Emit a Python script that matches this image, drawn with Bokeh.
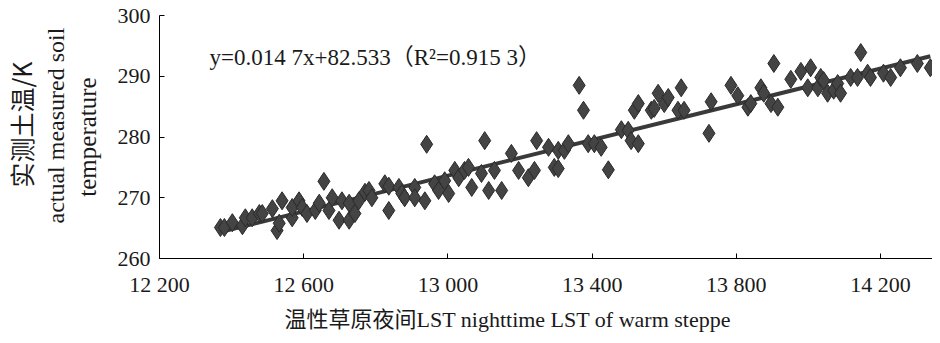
from bokeh.plotting import figure
from bokeh.models import (Range1d, FixedTicker, Label, ColumnDataSource, Title,
                          LinearAxis)
from bokeh.embed import file_html
from bokeh.resources import INLINE

# ---- data ----
lst_night = [12369, 12380, 12402, 12430, 12438, 12457, 12477, 12485, 12513, 12526,
             12532, 12540, 12568, 12568, 12587, 12596, 12609, 12632, 12643, 12656,
             12670, 12679, 12698, 12706, 12726, 12726, 12742, 12753, 12770, 12781,
             12789, 12825, 12836, 12836, 12864, 12872, 12880, 12908, 12908, 12936,
             12941, 12963, 12974, 12991, 13002, 13019, 13030, 13046, 13057, 13066,
             13093, 13102, 13113, 13129, 13149, 13176, 13196, 13223, 13240, 13246,
             13279, 13295, 13306, 13306, 13323, 13334, 13364, 13376, 13389, 13406,
             13425, 13445, 13481, 13500, 13508, 13517, 13528, 13528, 13564, 13572,
             13583, 13600, 13611, 13638, 13647, 13655, 13724, 13730, 13785, 13804,
             13832, 13840, 13868, 13876, 13896, 13904, 13915, 13951, 13979, 13998,
             14006, 14026, 14034, 14042, 14053, 14070, 14081, 14089, 14117, 14136,
             14145, 14164, 14172, 14208, 14228, 14255, 14302, 14338]
soil_temp = [265.1, 265.1, 265.9, 265.4, 266.7, 266.7, 267.4, 267.4, 268.2, 264.6,
             265.8, 269.5, 266.7, 268.4, 269.5, 268.4, 267.4, 267.9, 269.1, 272.7,
             267.9, 270.0, 266.3, 269.5, 269.1, 266.3, 267.4, 269.5, 270.9, 271.2,
             270.0, 272.3, 267.9, 271.9, 271.7, 270.7, 270.0, 271.7, 270.0, 269.5,
             278.8, 272.3, 271.2, 272.8, 270.7, 274.5, 273.3, 274.5, 275.0, 271.7,
             274.0, 279.4, 271.2, 274.5, 271.2, 277.3, 274.5, 273.3, 274.5, 279.4,
             278.3, 275.0, 277.8, 274.8, 277.8, 278.9, 288.5, 284.4, 278.9, 278.9,
             278.3, 274.6, 281.2, 281.1, 279.4, 284.4, 285.5, 278.9, 284.4, 284.7,
             287.2, 285.5, 286.5, 284.4, 288.1, 284.4, 280.6, 285.8, 288.5, 286.8,
             284.9, 285.5, 288.1, 287.2, 285.5, 292.1, 284.9, 289.5, 290.8, 288.1,
             291.4, 288.1, 289.8, 289.3, 287.2, 287.7, 288.8, 287.2, 289.8, 289.8,
             293.9, 290.5, 289.8, 290.5, 289.8, 291.4, 292.1, 291.4]

slope = 0.0147
intercept = 82.533

x_ticks = [12200, 12600, 13000, 13400, 13800, 14200]
x_tick_labels = ["12 200", "12 600", "13 000", "13 400", "13 800", "14 200"]
y_ticks = [260, 270, 280, 290, 300]

equation_text = "y=0.014 7x+82.533（R²=0.915 3）"
y_title_cn = "实测土温/K"
y_title_en1 = "actual measured soil"
y_title_en2 = "temperature"
x_title = "温性草原夜间LST  nighttime LST of warm steppe"

SERIF = "'Liberation Serif', 'Noto Sans CJK SC'"
TEXT_COLOR = "#1a1a1a"
MARK_COLOR = "#444444"

p = figure(width=932, height=335, output_backend="svg", toolbar_location=None,
           x_range=Range1d(12200, 14344), y_range=Range1d(260, 300),
           min_border_left=157, min_border_right=0, min_border_top=15,
           min_border_bottom=77)
p.outline_line_color = None
p.xgrid.visible = False
p.ygrid.visible = False
p.background_fill_color = "white"
p.border_fill_color = "white"

# regression line from the stated equation
lx = [min(lst_night), max(lst_night)]
ly = [slope * v + intercept for v in lx]
p.line(lx, ly, line_color="#3a3a3a", line_width=4)

src = ColumnDataSource(dict(x=lst_night, y=soil_temp))
p.scatter("x", "y", source=src, marker="diamond", size=18,
          fill_color=MARK_COLOR, line_color="#2a2a2a", line_width=1)

# axes
p.xaxis.ticker = FixedTicker(ticks=x_ticks)
p.xaxis.major_label_overrides = {t: l for t, l in zip(x_ticks, x_tick_labels)}
p.yaxis.ticker = FixedTicker(ticks=y_ticks)
for ax in (p.xaxis, p.yaxis):
    ax.axis_line_color = "black"
    ax.axis_line_width = 1
    ax.major_tick_in = 5
    ax.major_tick_out = 0
    ax.major_tick_line_color = "black"
    ax.minor_tick_line_color = None
    ax.major_label_text_font = SERIF
    ax.major_label_text_font_size = "22px"
    ax.major_label_text_color = TEXT_COLOR
p.xaxis.major_label_standoff = 13
p.yaxis.major_label_standoff = 9

# innermost y title as the axis label
p.yaxis.axis_label = y_title_en2
p.yaxis.axis_label_standoff = 14
p.yaxis.axis_label_text_font = SERIF
p.yaxis.axis_label_text_font_size = "25px"
p.yaxis.axis_label_text_font_style = "normal"
p.yaxis.axis_label_text_color = TEXT_COLOR

# outer y titles
p.add_layout(Title(text=y_title_en1, align="left", offset=35, vertical_align="bottom",
                   standoff=4, text_font=SERIF, text_font_size="24px",
                   text_font_style="normal", text_color=TEXT_COLOR), "left")
p.add_layout(Title(text=y_title_cn, align="left", offset=71, vertical_align="bottom",
                   standoff=0, text_font="Noto Sans CJK SC", text_font_size="25px",
                   text_font_style="normal", text_color=TEXT_COLOR), "left")

# x title: a label-only axis below the main one (its single label placed off-centre)
x_title_pos = 13174
xt = LinearAxis(ticker=FixedTicker(ticks=[x_title_pos]),
                major_label_overrides={x_title_pos: x_title},
                axis_line_color=None, major_tick_line_color=None,
                minor_tick_line_color=None, major_tick_in=0, major_tick_out=0,
                major_label_standoff=7, major_label_text_font=SERIF,
                major_label_text_font_size="22px", major_label_text_color=TEXT_COLOR)
p.add_layout(xt, "below")

# equation text
p.add_layout(Label(x=50, y=201, x_units="screen", y_units="screen",
                   text=equation_text, text_font=SERIF, text_font_size="23px",
                   text_color=TEXT_COLOR, text_align="left", text_baseline="middle"))

open("out.html", "w").write(file_html(p, INLINE))
